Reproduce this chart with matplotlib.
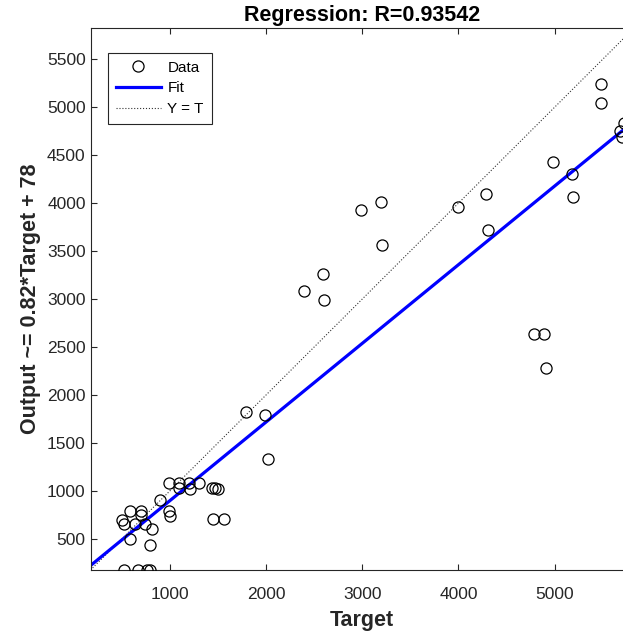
import numpy as np
import matplotlib
matplotlib.use('Agg')
import matplotlib.pyplot as plt

plt.rcParams['font.family'] = ['Liberation Sans', 'DejaVu Sans']
plt.rcParams['font.size'] = 12.5

# values (Target, Output)
target = [500, 520, 590, 700, 640, 700, 740, 810, 590, 790,
          900, 990, 990, 1000, 1095, 1095, 1195, 1210, 1300, 1440,
          1470, 1500, 1450, 1565, 2015, 525, 670, 760, 795,
          1790, 1990, 2390, 2590, 2605, 2990, 3190, 3200,
          3990, 4285, 4305, 4985, 5185, 5195, 5480, 5480,
          5680, 5700, 5720, 4780, 4890, 4905]
output = [700, 650, 790, 790, 650, 750, 650, 600, 500, 440,
          910, 1085, 790, 740, 1085, 1025, 1085, 1015, 1085, 1025,
          1025, 1020, 705, 705, 1335, 180, 180, 180, 180,
          1820, 1795, 3085, 3265, 2985, 3925, 4015, 3560,
          3955, 4100, 3715, 4430, 4305, 4065, 5245, 5045,
          4750, 4690, 4835, 2635, 2635, 2280]

fit_slope = 0.82
fit_offset = 78
r_value = 0.93542
lims = [175, 5825]
x_ticks = [1000, 2000, 3000, 4000, 5000]
y_ticks = [500, 1000, 1500, 2000, 2500, 3000, 3500, 4000, 4500, 5000, 5500]

dark = '#262626'

fig = plt.figure(figsize=(6.23, 6.33), dpi=100)
# the axes run off the right border, like the cropped original
ax = fig.add_axes([0.1453, 0.0995, 0.8724, 0.8562])

ax.plot(target, output, 'o', mfc='none', mec='black', ms=8, mew=0.9,
        label='Data', zorder=3)
xx = np.array(lims)
ax.plot(xx, fit_slope * xx + fit_offset, color='#0000ff', lw=2.3,
        label='Fit', zorder=2)
ax.plot(xx, xx, ':', color='#333333', lw=0.8, label='Y = T', zorder=1)

ax.set_xlim(lims)
ax.set_ylim(lims)
ax.set_xticks(x_ticks)
ax.set_yticks(y_ticks)
ax.tick_params(direction='in', length=4, width=0.8, colors=dark,
               top=True, right=True, labelsize=12.5)
ax.tick_params(axis='x', pad=12)
for s in ax.spines.values():
    s.set_color(dark)
    s.set_linewidth(0.8)

ax.set_title(f'Regression: R={r_value}', fontsize=15.5, fontweight='bold',
             color='black', pad=5)
ax.set_xlabel('Target', fontsize=15.5, fontweight='bold', color=dark,
              labelpad=6)
ax.set_ylabel(f'Output ~= {fit_slope}*Target + {fit_offset}', fontsize=15.5,
              fontweight='bold', color=dark, labelpad=4)

leg = ax.legend(loc='upper left', bbox_to_anchor=(0.032, 0.954),
                borderaxespad=0, fontsize=11, fancybox=False,
                edgecolor=dark, framealpha=1, handlelength=3,
                handletextpad=0.4, labelspacing=0.45, borderpad=0.5)
leg.get_frame().set_linewidth(0.8)

plt.savefig('out.png', dpi=100)
